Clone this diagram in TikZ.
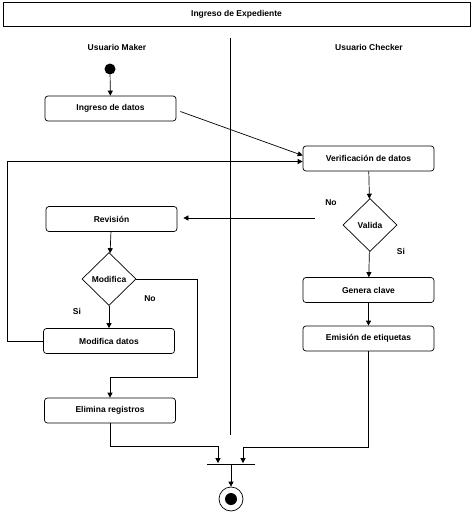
\documentclass[tikz,border=0pt]{standalone}
\usepackage{fontspec}
\setmainfont{Liberation Sans}
\usetikzlibrary{shapes.geometric,arrows.meta}

\begin{document}
\begin{tikzpicture}[x=1pt,y=-1pt,
	font=\fontsize{8.5}{10}\selectfont\bfseries,
	line width=0.7pt,
	activity/.style={draw, rounded corners=3pt, minimum width=131pt, minimum height=25pt, inner sep=0pt},
	decision/.style={draw, diamond, minimum width=54pt, minimum height=53pt, inner sep=0pt},
	flow/.style={-{Triangle[length=5pt,width=5pt]}}]
	\useasboundingbox (0,0) rectangle (474,514);
	% cabecera y carriles
	\node [draw, minimum width=467pt, minimum height=24pt, inner sep=0pt] (titulo) at (236.5,14) {Ingreso de Expediente};
	\draw (230,38) -- (230,435);
	\node (maker) at (117,47) {Usuario Maker};
	\node (checker) at (369,47) {Usuario Checker};
	% nodos
	\node [circle, fill, minimum size=11pt, inner sep=0pt] (inicio) at (110,69) {};
	\node [activity] (ingreso) at (110.5,108.5) {Ingreso de datos};
	\node [activity] (verif) at (368.5,158.5) {Verificación de datos};
	\node [decision] (valida) at (370,225) {Valida};
	\node [activity] (revision) at (111.5,219) {Revisión};
	\node [decision] (modifica) at (109,279) {Modifica};
	\node [activity] (modifdatos) at (109,341) {Modifica datos};
	\node [activity] (elimina) at (110,410.5) {Elimina registros};
	\node [activity] (genera) at (368.5,290) {Genera clave};
	\node [activity] (emision) at (368.5,338.5) {Emisión de etiquetas};
	\node [fill, minimum width=48pt, minimum height=1pt, inner sep=0pt] (barra) at (231,464) {};
	\node [circle, draw, minimum size=24pt, inner sep=0pt] (fin) at (231,499) {};
	\node [circle, fill, minimum size=12pt, inner sep=0pt] (finin) at (fin) {};
	\coordinate (noValida) at (315,218);
	% etiquetas
	\node (no1) at (331,203) {No};
	\node (si1) at (401,251) {Si};
	\node (no2) at (150,299) {No};
	\node (si2) at (77,311) {Si};
	% flujos
	\draw [flow] (inicio) -- (ingreso);
	\draw [flow] ([xshift=4pt,yshift=-3pt]ingreso.east) -- ([yshift=3pt]verif.west);
	\draw [flow] (verif) -- (valida);
	\draw [flow, shorten >=6pt] (noValida) -- (noValida -| revision.east);
	\draw [flow] (valida) -- (genera);
	\draw [flow] (genera) -- (emision);
	\draw [flow] (revision) -- (modifica);
	\draw [flow] (modifica) -- (modifdatos);
	\draw [flow] (modifdatos.west) -- ++(-36,0) |- ([yshift=-3pt]verif.west);
	\draw [flow] (modifica.east) -- ++(61,0) -- ++(0,98) -| (elimina.north);
	\draw [flow] (elimina.south) -- ++(0,23) -| ([xshift=-13pt]barra.north);
	\draw [flow] (emision.south) -- ++(0,96) -| ([xshift=12pt]barra.north);
	\draw [flow] (barra) -- (fin);
\end{tikzpicture}
\end{document}
